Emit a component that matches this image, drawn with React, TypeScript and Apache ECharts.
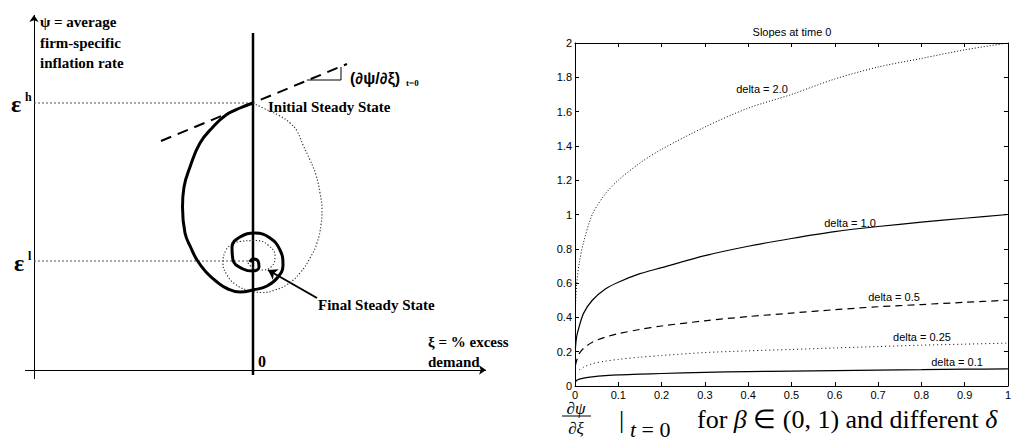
import React, { useEffect, useRef } from "react";
import * as echarts from "echarts";

// ---------- Left schematic (ξ, ψ in diagram units; origin at ξ=0 on the horizontal axis) ----------
const SOLID_SPIRAL: number[][] = [
  [0, 267], [-13, 262], [-27, 255], [-40, 243], [-53, 227], [-63, 203], [-69, 183], [-70.5, 163],
  [-68, 137], [-62, 122], [-56, 110], [-47, 98], [-36, 88], [-25, 81], [-13, 78], [0, 80], [14, 84],
  [25, 93], [30, 105], [27, 120], [17, 132], [2, 137], [-13, 133], [-21, 123], [-20, 110], [-10, 101],
  [0, 99], [6, 103], [5, 109], [0, 111], [-3, 108],
];
const DOTTED_SPIRAL: number[][] = [
  [0, 267], [10, 262], [27, 254], [37, 247], [44, 239], [50, 225], [57, 210], [63, 195], [67, 177],
  [69, 160], [68, 145], [64, 127], [57, 112], [47, 97], [35, 86], [22, 80], [10, 77.5], [-6, 80],
  [-18, 86], [-26, 95], [-30, 107], [-27, 120], [-20, 126], [-13, 128.5], [3, 129.5], [15, 125],
  [22, 114], [19, 104], [9, 100], [-1, 103], [-5, 108], [0, 110],
];
const EPS_H = 267;
const EPS_L = 109;
const ZERO_LINE: number[][] = [[0, -5], [0, 337]];
const TANGENT: number[][] = [[-92, 229], [94, 306]];
const SLOPE_TRIANGLE: number[][] = [[54, 290], [88, 290], [88, 303]];
const FINAL_ARROW: number[][] = [[64, 72], [15, 100]];
const X_AXIS_LINE: number[][] = [[-228, 0], [233, 0]];
const Y_AXIS_LINE: number[][] = [[-219, -9], [-219, 355]];

// ---------- Right chart: slopes at time 0 ----------
const BETA = [0.001, 0.004, 0.01, 0.02, 0.04, 0.07, 0.1, 0.15, 0.2, 0.3, 0.4, 0.5, 0.6, 0.7, 0.8, 0.9, 1.0];
const DELTA_20 = [0.46, 0.6, 0.72, 0.84, 1.0, 1.12, 1.2, 1.3, 1.38, 1.51, 1.62, 1.7, 1.79, 1.86, 1.91, 1.96, 2.0];
const DELTA_10 = [0.22, 0.29, 0.35, 0.425, 0.5, 0.565, 0.605, 0.655, 0.69, 0.76, 0.815, 0.86, 0.9, 0.93, 0.955, 0.978, 1.0];
const DELTA_05 = [0.12, 0.15, 0.19, 0.22, 0.255, 0.285, 0.305, 0.33, 0.35, 0.38, 0.405, 0.425, 0.445, 0.462, 0.475, 0.488, 0.5];
const DELTA_025 = [null, null, 0.095, 0.11, 0.13, 0.145, 0.155, 0.168, 0.178, 0.195, 0.205, 0.213, 0.222, 0.23, 0.238, 0.244, 0.25];
const DELTA_01 = [0.022, 0.033, 0.04, 0.046, 0.053, 0.06, 0.065, 0.069, 0.073, 0.08, 0.084, 0.087, 0.09, 0.093, 0.095, 0.098, 0.1];
const SERIES_LABELS = ["delta = 2.0", "delta = 1.0", "delta = 0.5", "delta = 0.25", "delta = 0.1"];

const pairs = (ys: (number | null)[]) =>
  BETA.map((b, i) => [b, ys[i]]).filter((p) => p[1] !== null);

const SERIF = '"Liberation Serif", "Times New Roman", serif';
const SANS = '"Liberation Sans", Arial, Helvetica, sans-serif';

export default function App() {
  const ref = useRef<HTMLDivElement>(null);
  useEffect(() => {
    if (!ref.current) return;
    document.body.style.margin = "0";
    const chart = echarts.init(ref.current, undefined, { renderer: "svg" });

    const bold = (size: number) => `bold ${size}px ${SERIF}`;
    const txt = (text: string, x: number, y: number, font: string, align = "left", color = "#000") => ({
      type: "text",
      x,
      y,
      silent: true,
      style: { text, font, fill: color, align, verticalAlign: "middle" },
    });

    const rightTick = { show: true, inside: true, length: 4, lineStyle: { color: "#000", width: 1 } };
    const rightLine = { show: true, onZero: false, lineStyle: { color: "#000", width: 1 } };
    const rightLabel = { color: "#000", fontSize: 11, fontFamily: SANS };
    const curve = (name: string, ys: (number | null)[], width: number, type: any) => ({
      name, type: "line", xAxisIndex: 1, yAxisIndex: 1, data: pairs(ys),
      symbol: "none", smooth: 0.3,
      lineStyle: { color: "#000", width, type },
    });

    const option: any = {
      animation: false,
      backgroundColor: "#fff",
      grid: [
        { left: 25, right: 528, top: 15, bottom: 65, containLabel: false },
        { left: 575, right: 5, top: 43, bottom: 58, containLabel: false },
      ],
      xAxis: [
        { gridIndex: 0, type: "value", min: -228, max: 233, show: false },
        {
          gridIndex: 1, type: "value", min: 0, max: 1, interval: 0.1, position: "bottom",
          axisLine: rightLine, axisTick: rightTick,
          axisLabel: { ...rightLabel, margin: 3 }, splitLine: { show: false },
        },
        {
          gridIndex: 1, type: "value", min: 0, max: 1, interval: 0.1, position: "top",
          axisLine: rightLine, axisTick: rightTick, axisLabel: { show: false }, splitLine: { show: false },
        },
      ],
      yAxis: [
        { gridIndex: 0, type: "value", min: -9, max: 355, show: false },
        {
          gridIndex: 1, type: "value", min: 0, max: 2, interval: 0.2, position: "left",
          axisLine: rightLine, axisTick: rightTick,
          axisLabel: { ...rightLabel, margin: 3 }, splitLine: { show: false },
        },
        {
          gridIndex: 1, type: "value", min: 0, max: 2, interval: 0.2, position: "right",
          axisLine: rightLine, axisTick: rightTick, axisLabel: { show: false }, splitLine: { show: false },
        },
      ],
      series: [
        // ---- left schematic ----
        {
          name: "axes", type: "lines", coordinateSystem: "cartesian2d", xAxisIndex: 0, yAxisIndex: 0,
          symbol: ["none", "arrow"], symbolSize: 7, silent: true,
          lineStyle: { color: "#000", width: 1, opacity: 1, curveness: 0 },
          data: [{ coords: X_AXIS_LINE }, { coords: Y_AXIS_LINE }],
        },
        {
          name: "zero", type: "line", xAxisIndex: 0, yAxisIndex: 0, data: ZERO_LINE, symbol: "none",
          lineStyle: { color: "#000", width: 2.5 }, silent: true,
        },
        {
          name: "eps_h", type: "line", xAxisIndex: 0, yAxisIndex: 0, data: [[-219, EPS_H], [0, EPS_H]],
          symbol: "none", lineStyle: { color: "#555", width: 1, type: [2, 2] }, silent: true,
        },
        {
          name: "eps_l", type: "line", xAxisIndex: 0, yAxisIndex: 0, data: [[-219, EPS_L], [0, EPS_L]],
          symbol: "none", lineStyle: { color: "#555", width: 1, type: [2, 2] }, silent: true,
        },
        {
          name: "tangent", type: "line", xAxisIndex: 0, yAxisIndex: 0, data: TANGENT, symbol: "none",
          lineStyle: { color: "#000", width: 2, type: [11, 7] }, silent: true,
        },
        {
          name: "triangle", type: "line", xAxisIndex: 0, yAxisIndex: 0, data: SLOPE_TRIANGLE, symbol: "none",
          lineStyle: { color: "#000", width: 1 }, silent: true,
        },
        {
          name: "dotted path", type: "line", xAxisIndex: 0, yAxisIndex: 0, data: DOTTED_SPIRAL, symbol: "none",
          smooth: 0.45, lineStyle: { color: "#333", width: 1.2, type: [1.2, 2] }, silent: true,
        },
        {
          name: "solid path", type: "line", xAxisIndex: 0, yAxisIndex: 0, data: SOLID_SPIRAL, symbol: "none",
          smooth: 0.45, lineStyle: { color: "#000", width: 3 }, silent: true,
        },
        {
          name: "final arrow", type: "lines", coordinateSystem: "cartesian2d", xAxisIndex: 0, yAxisIndex: 0,
          symbol: ["none", "arrow"], symbolSize: 9, silent: true,
          lineStyle: { color: "#000", width: 2, opacity: 1, curveness: 0 },
          data: [{ coords: FINAL_ARROW }],
        },
        // ---- right chart ----
        curve(SERIES_LABELS[0], DELTA_20, 1, [1, 2]),
        curve(SERIES_LABELS[1], DELTA_10, 1.2, "solid"),
        curve(SERIES_LABELS[2], DELTA_05, 1.2, [7, 5]),
        curve(SERIES_LABELS[3], DELTA_025, 1, [1, 3]),
        curve(SERIES_LABELS[4], DELTA_01, 1.2, "solid"),
      ],
      graphic: [
        // left texts
        txt("ψ = average", 40, 22, bold(15)),
        txt("firm-specific", 40, 43, bold(15)),
        txt("inflation rate", 40, 63, bold(15)),
        txt("ε", 11, 104, bold(24)),
        txt("h", 25, 97, bold(12)),
        txt("ε", 14, 263, bold(24)),
        txt("l", 28, 256, bold(12)),
        txt("Initial Steady State", 268, 107, bold(15)),
        txt("(∂ψ/∂ξ)", 350, 78, `bold 16px ${SANS}`),
        txt("t=0", 406, 83, bold(9)),
        txt("Final Steady State", 318, 305, bold(15)),
        txt("ξ = % excess", 428, 342, bold(15)),
        txt("demand", 428, 362, bold(15)),
        txt("0", 258, 361, bold(16)),
        // right texts
        txt("Slopes at time 0", 792, 32, `11px ${SANS}`, "center"),
        txt(SERIES_LABELS[0], 762, 89, `11px ${SANS}`, "center"),
        txt(SERIES_LABELS[1], 850, 223, `11px ${SANS}`, "center"),
        txt(SERIES_LABELS[2], 894, 297, `11px ${SANS}`, "center"),
        txt(SERIES_LABELS[3], 922, 337, `11px ${SANS}`, "center"),
        txt(SERIES_LABELS[4], 957, 362, `11px ${SANS}`, "center"),
        // caption (LaTeX-like)
        txt("∂ψ", 576, 408, `italic 17px ${SERIF}`, "center"),
        { type: "line", silent: true, shape: { x1: 562, y1: 416, x2: 591, y2: 416 }, style: { stroke: "#000", lineWidth: 1 } },
        txt("∂ξ", 576, 428, `italic 17px ${SERIF}`, "center"),
        txt("|", 619, 419, `26px ${SERIF}`),
        {
          type: "text", x: 630, y: 429, silent: true,
          style: {
            text: "{i|t}{n| = 0}", verticalAlign: "middle", fill: "#000",
            rich: { i: { font: `italic 22px ${SERIF}` }, n: { font: `22px ${SERIF}` } },
          },
        },
        {
          type: "text", x: 697, y: 419, silent: true,
          style: {
            text: "{n|for }{i|β}{n| ∈ (0, 1) and different }{i|δ}", verticalAlign: "middle", fill: "#000",
            rich: { i: { font: `italic 26px ${SERIF}` }, n: { font: `26px ${SERIF}` } },
          },
        },
      ],
    };
    chart.setOption(option);
    return () => chart.dispose();
  }, []);
  return <div ref={ref} style={{ width: 1014, height: 444 }} />;
}
